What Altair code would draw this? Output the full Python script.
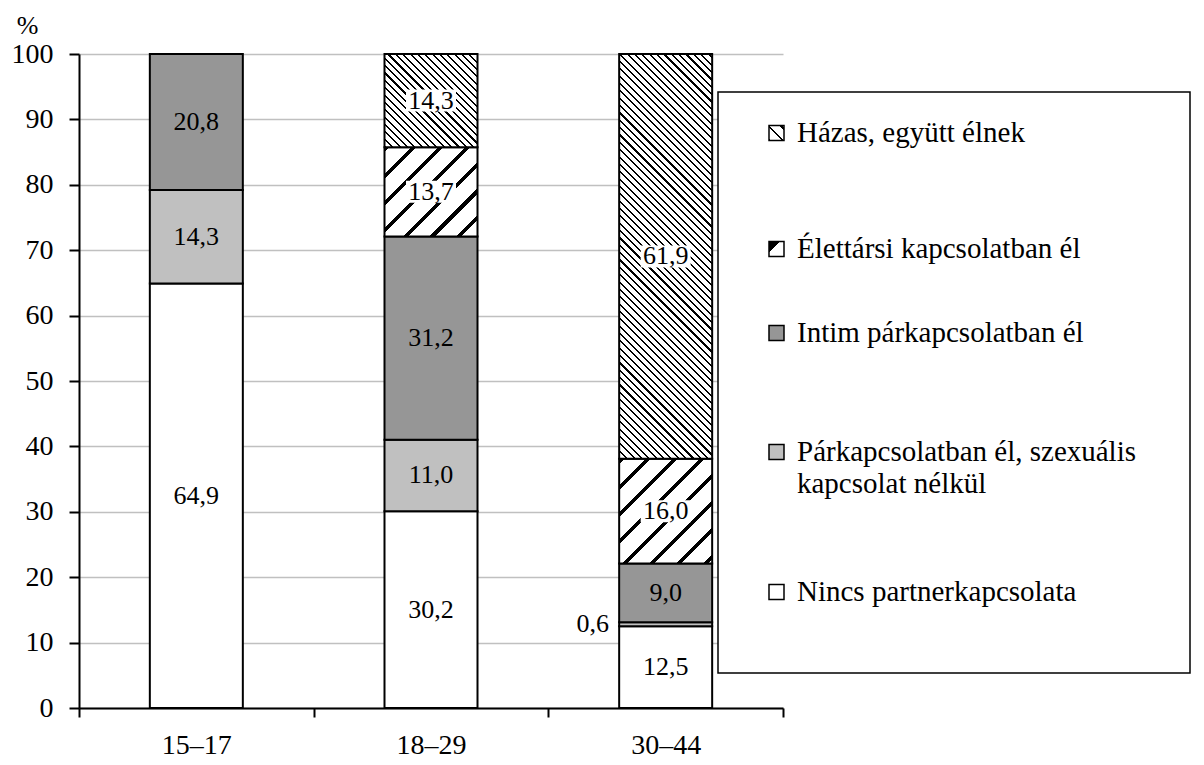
import math
import altair as alt
import pandas as pd

# ---------------- data ----------------
categories = ["15–17", "18–29", "30–44"]
series = [
    "Nincs partnerkapcsolata",
    "Párkapcsolatban él, szexuális kapcsolat nélkül",
    "Intim párkapcsolatban él",
    "Élettársi kapcsolatban él",
    "Házas, együtt élnek",
]
nincs = [64.9, 30.2, 12.5]
parkapcs = [14.3, 11.0, 0.6]
intim = [20.8, 31.2, 9.0]
elettarsi = [0.0, 13.7, 16.0]
hazas = [0.0, 14.3, 61.9]
y_ticks = [0, 10, 20, 30, 40, 50, 60, 70, 80, 90, 100]

legend_labels = [
    ["Házas, együtt élnek"],
    ["Élettársi kapcsolatban él"],
    ["Intim párkapcsolatban él"],
    ["Párkapcsolatban él, szexuális", "kapcsolat nélkül"],
    ["Nincs partnerkapcsolata"],
]

# ---------------- style / layout ----------------
FONT = "Liberation Serif"
W, H = 704, 654
BAR_W = 93
WHITE, LIGHT, DARK, BLACK = "#ffffff", "#c0c0c0", "#969696", "#000000"
solid_fills = [WHITE, LIGHT, DARK]

values_by_series = [nincs, parkapcs, intim, elettarsi, hazas]
rows = []
for si, (s, vals) in enumerate(zip(series, values_by_series)):
    for ci, c in enumerate(categories):
        if vals[ci] > 0:
            rows.append({"cat": c, "series": s, "order": si, "value": vals[ci]})
df = pd.DataFrame(rows)
totals = [sum(v[ci] for v in values_by_series) for ci in range(len(categories))]


def hatch(w, h, direction, period, thick):
    """Stripe fill as a linear gradient (bbox units) giving 45 degree lines."""
    L = w + h
    lam = w * L / (w * w + h * h)
    if direction == "up":  # '/'
        x1, y1, x2, y2 = 0, 0, lam, lam * h / w
    else:  # '\'
        x1, y1, x2, y2 = 0, 1, lam, 1 - lam * h / w
    ps = period * math.sqrt(2)
    ts = thick * math.sqrt(2)
    stops = []
    k = 0
    while k * ps < L:
        a = k * ps / L
        b = min((k * ps + ts) / L, 1)
        n = min((k + 1) * ps / L, 1)
        stops += [
            alt.GradientStop(offset=a, color=BLACK),
            alt.GradientStop(offset=b, color=BLACK),
            alt.GradientStop(offset=b, color=WHITE),
            alt.GradientStop(offset=n, color=WHITE),
        ]
        k += 1
    return alt.LinearGradient(gradient="linear", stops=stops, x1=x1, y1=y1, x2=x2, y2=y2)


hatch_style = {
    3: ("up", 19, 3.6),     # Élettársi: wide upward diagonal
    4: ("down", 5.2, 1.5),  # Házas: thin downward diagonal
}

# ---------------- encodings ----------------
x_enc = alt.X(
    "cat:N",
    sort=categories,
    scale=alt.Scale(domain=categories, paddingInner=0, paddingOuter=0),
    axis=alt.Axis(
        title=None, labelAngle=0, tickBand="extent", tickSize=9, tickColor=BLACK,
        tickWidth=2, domainColor=BLACK, domainWidth=2, grid=False,
        labelFont=FONT, labelFontSize=28, labelColor=BLACK, labelPadding=14,
    ),
)
y_axis = alt.Axis(
    values=y_ticks, title="%", titleAngle=0, titleAlign="center", titleBaseline="middle",
    titleX=-52, titleY=-29, titleFont=FONT, titleFontSize=26, titleFontWeight="normal",
    titleColor=BLACK, labelFont=FONT, labelFontSize=28, labelColor=BLACK, labelPadding=16,
    tickSize=10, tickColor=BLACK, tickWidth=2, domainColor=BLACK, domainWidth=2,
    grid=True, gridColor="#c0c0c0", gridWidth=1.5,
)
y_scale = alt.Scale(domain=[0, 100], nice=False, zero=True)


def Y(field):
    return alt.Y(field, type="quantitative", scale=y_scale, axis=y_axis)


base = (
    alt.Chart(df)
    .transform_joinaggregate(total="sum(value)", groupby=["cat"])
    .transform_calculate(pct="datum.value / datum.total * 100")
    .transform_stack(stack="pct", groupby=["cat"],
                     sort=[alt.SortField("order", order="ascending")], as_=["y0", "y1"])
    .transform_calculate(
        mid="(datum.y0 + datum.y1) / 2",
        label="replace(format(datum.value, '.1f'), '.', ',')",
    )
)

layers = []
# solid segments
layers.append(
    base.transform_filter("datum.order <= 2")
    .mark_bar(width=BAR_W, stroke=BLACK, strokeWidth=2)
    .encode(
        x=x_enc, y=Y("y0"), y2="y1",
        fill=alt.Fill("series:N", scale=alt.Scale(domain=series[:3], range=solid_fills), legend=None),
    )
)
# hatched segments, one per bar so the stripes keep 45 degrees
for si in (3, 4):
    direction, period, thick = hatch_style[si]
    for ci, c in enumerate(categories):
        v = values_by_series[si][ci]
        if v <= 0:
            continue
        h_px = v / totals[ci] * H
        layers.append(
            base.transform_filter(f"datum.order === {si} && datum.cat === '{c}'")
            .mark_bar(width=BAR_W, stroke=BLACK, strokeWidth=2,
                      fill=hatch(BAR_W, h_px, direction, period, thick))
            .encode(x=x_enc, y=Y("y0"), y2="y1")
        )
# white boxes behind labels on hatched segments
layers.append(
    base.transform_filter("datum.order >= 3")
    .mark_tick(size=50, thickness=22, color=WHITE, opacity=1)
    .encode(x=x_enc, y=Y("mid"))
)
# value labels
layers.append(
    base.transform_filter("datum.value >= 1")
    .mark_text(font=FONT, fontSize=26, color=BLACK, baseline="middle", align="center")
    .encode(x=x_enc, y=Y("mid"), text="label:N")
)
layers.append(
    base.transform_filter("datum.value < 1")
    .mark_text(font=FONT, fontSize=26, color=BLACK, baseline="middle", align="center", dx=-73)
    .encode(x=x_enc, y=Y("mid"), text="label:N")
)

# ---------------- legend (drawn manually) ----------------
one = pd.DataFrame({"k": [0]})
BOX = (639, 38, 1111, 619)
layers.append(
    alt.Chart(one).mark_rect(fill=WHITE, stroke=BLACK, strokeWidth=1.5).encode(
        x=alt.value(BOX[0]), x2=alt.value(BOX[2]), y=alt.value(BOX[1]), y2=alt.value(BOX[3])
    )
)
leg_y = [79, 195, 279, 398, 538]
LINE_GAP = 32
SW_X, SW = 690, 15
legend_fills = [
    hatch(SW, SW, "down", 9, 1.6),
    hatch(SW, SW, "up", 40, 7.5),
    DARK, LIGHT, WHITE,
]
for yc, fill in zip(leg_y, legend_fills):
    layers.append(
        alt.Chart(one).mark_rect(fill=fill, stroke=BLACK, strokeWidth=1.5).encode(
            x=alt.value(SW_X), x2=alt.value(SW_X + SW),
            y=alt.value(yc - SW / 2), y2=alt.value(yc + SW / 2),
        )
    )
leg_rows = []
for yc, lines in zip(leg_y, legend_labels):
    for li, t in enumerate(lines):
        leg_rows.append({"t": t, "py": yc + li * LINE_GAP})
layers.append(
    alt.Chart(pd.DataFrame(leg_rows))
    .mark_text(font=FONT, fontSize=29, color=BLACK, align="left", baseline="middle")
    .encode(x=alt.value(718), y=alt.Y("py:Q", scale=None), text="t:N")
)

chart = (
    alt.layer(*layers)
    .properties(
        width=W, height=H,
        autosize=alt.AutoSizeParams(type="none"),
        padding={"left": 71, "top": 46, "right": 413, "bottom": 54},
        background="white",
    )
    .configure_view(stroke=None)
)

chart.save("out.html", embed_options={"renderer": "svg", "actions": False})
